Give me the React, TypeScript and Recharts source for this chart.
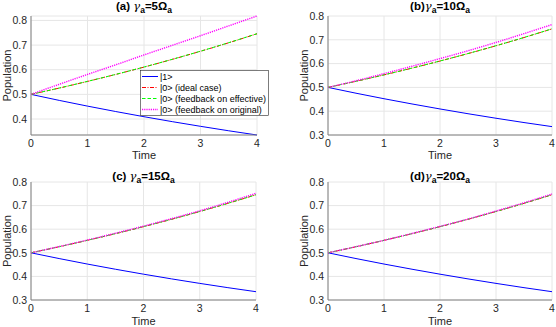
import { LineChart, Line, XAxis, YAxis, CartesianGrid } from 'recharts';

// time axis and populations at every 0.5
const time = [0, 0.5, 1, 1.5, 2, 2.5, 3, 3.5, 4];
const pop1 = [0.5, 0.4756, 0.4524, 0.4304, 0.4094, 0.3894, 0.3704, 0.3523, 0.3352];
const pop0Ideal = [0.5, 0.5256, 0.5526, 0.5809, 0.6107, 0.642, 0.6749, 0.7095, 0.7459];
const pop0Effective = [0.5, 0.5258, 0.5529, 0.5812, 0.611, 0.6423, 0.6752, 0.7098, 0.7462];
const pop0OriginalA = [0.5, 0.541, 0.581, 0.62, 0.66, 0.699, 0.738, 0.778, 0.818];
const pop0OriginalB = [0.5, 0.528, 0.558, 0.589, 0.621, 0.654, 0.689, 0.726, 0.764];
const pop0OriginalC = [0.5, 0.5265, 0.554, 0.583, 0.613, 0.645, 0.678, 0.714, 0.752];
const pop0OriginalD = [0.5, 0.526, 0.553, 0.582, 0.612, 0.643, 0.677, 0.712, 0.749];

const xTicks = [0, 1, 2, 3, 4];
const yTicksA = [0.4, 0.5, 0.6, 0.7, 0.8];
const yTicksRest = [0.3, 0.4, 0.5, 0.6, 0.7, 0.8];

const legendLabels = ['|1>', '|0> (ideal case)', '|0> (feedback on effective)', '|0> (feedback on original)'];
const titleLetters = ['(a) ', '(b)', '(c) ', '(d)'];
const titleRatios = ['5', '10', '15', '20'];

const FONT = '"Liberation Sans", Arial, Helvetica, sans-serif';
const GRID = '#e6e6e6';
const AXIS = '#808080';
const TXT = '#262626';

const styles = [
  { stroke: '#0000ff', dash: undefined, width: 1 },
  { stroke: '#ff0000', dash: '4 1.5 1 1.5', width: 1 },
  { stroke: '#00ff00', dash: '3.5 2', width: 1 },
  { stroke: '#ff00ff', dash: '1.2 1', width: 1.4 },
];

const originals = [pop0OriginalA, pop0OriginalB, pop0OriginalC, pop0OriginalD];

const panels = [
  { left: 0, top: 0, width: 278, height: 163, right: 21 },
  { left: 297, top: 0, width: 259, height: 163, right: 4 },
  { left: 0, top: 166, width: 278, height: 162, right: 22 },
  { left: 297, top: 166, width: 259, height: 162, right: 4 },
];

function Panel({ idx }: { idx: number }) {
  const p = panels[idx];
  const data = time.map((t, i) => ({
    t,
    p1: pop1[i],
    ideal: pop0Ideal[i],
    eff: pop0Effective[i],
    orig: originals[idx][i],
  }));
  const keys = ['p1', 'ideal', 'eff', 'orig'];
  const tickStyle = { fontSize: 10.5, fontFamily: FONT, fill: TXT };
  return (
    <div style={{ position: 'absolute', left: p.left, top: p.top }}>
      <LineChart width={p.width} height={p.height} data={data} margin={{ top: 16, right: p.right, bottom: 0, left: 0 }}>
        <CartesianGrid stroke={GRID} strokeWidth={1} />
        <XAxis
          dataKey="t"
          type="number"
          domain={[0, 4]}
          ticks={xTicks}
          height={28}
          tickLine={false}
          tickSize={0}
          tickMargin={5}
          stroke={AXIS}
          tick={tickStyle}
        />
        <YAxis
          type="number"
          domain={idx === 0 ? ['dataMin', 'dataMax'] : [0.3, 0.8]}
          ticks={idx === 0 ? yTicksA : yTicksRest}
          width={31}
          tickLine={false}
          tickSize={0}
          tickMargin={4}
          stroke={AXIS}
          tick={tickStyle}
          tickFormatter={(v: number) => String(Math.round(v * 10) / 10)}
        />
        {keys.map((k, i) => (
          <Line
            key={k}
            dataKey={k}
            type="monotone"
            stroke={styles[i].stroke}
            strokeWidth={styles[i].width}
            strokeDasharray={styles[i].dash}
            dot={false}
            isAnimationActive={false}
          />
        ))}
      </LineChart>
    </div>
  );
}

function Title({ idx, cx, y }: { idx: number; cx: number; y: number }) {
  return (
    <text x={cx} y={y} textAnchor="middle" fontSize={11.5} fontWeight="bold" fontFamily={FONT} fill="#000">
      <tspan>{titleLetters[idx]}</tspan>
      <tspan fontStyle="italic" fontWeight="normal" fontFamily="DejaVu Serif, serif">γ</tspan>
      <tspan fontSize={8.5} dy={3}>a</tspan>
      <tspan dy={-3}>{'=' + titleRatios[idx] + 'Ω'}</tspan>
      <tspan fontSize={8.5} dy={3}>a</tspan>
    </text>
  );
}

function Overlay() {
  const plotCx = [144, 440, 143.5, 440];
  const plotCy = [75.5, 75.5, 241, 241];
  const labelX = [7, 304, 7, 304];
  const titleY = [10, 10, 180, 180];
  const timeY = [159, 159, 325, 325];
  const legendRowY = [76.5, 87.5, 98.5, 109.5];
  return (
    <svg width={556} height={327} style={{ position: 'absolute', left: 0, top: 0, pointerEvents: 'none' }}>
      {plotCx.map((cx, i) => (
        <g key={i}>
          <Title idx={i} cx={cx} y={titleY[i]} />
          <text x={cx} y={timeY[i]} textAnchor="middle" fontSize={11} fontFamily={FONT} fill={TXT}>
            Time
          </text>
          <text
            x={labelX[i]}
            y={plotCy[i]}
            textAnchor="middle"
            dominantBaseline="central"
            fontSize={11}
            fontFamily={FONT}
            fill={TXT}
            transform={`rotate(-90 ${labelX[i]} ${plotCy[i]})`}
          >
            Population
          </text>
        </g>
      ))}
      <rect x={140.5} y={70.5} width={128} height={45} fill="#fff" stroke={TXT} strokeWidth={0.6} />
      {legendLabels.map((lab, i) => (
        <g key={lab}>
          <line
            x1={142}
            x2={158}
            y1={legendRowY[i]}
            y2={legendRowY[i]}
            stroke={styles[i].stroke}
            strokeWidth={styles[i].width}
            strokeDasharray={styles[i].dash}
          />
          <text x={160} y={legendRowY[i]} dominantBaseline="central" fontSize={9} fontFamily={FONT} fill="#000">
            {lab}
          </text>
        </g>
      ))}
    </svg>
  );
}

export default function App() {
  return (
    <div style={{ position: 'absolute', left: 0, top: 0, width: 556, height: 327, background: '#fff' }}>
      {[0, 1, 2, 3].map((i) => (
        <Panel key={i} idx={i} />
      ))}
      <Overlay />
    </div>
  );
}
